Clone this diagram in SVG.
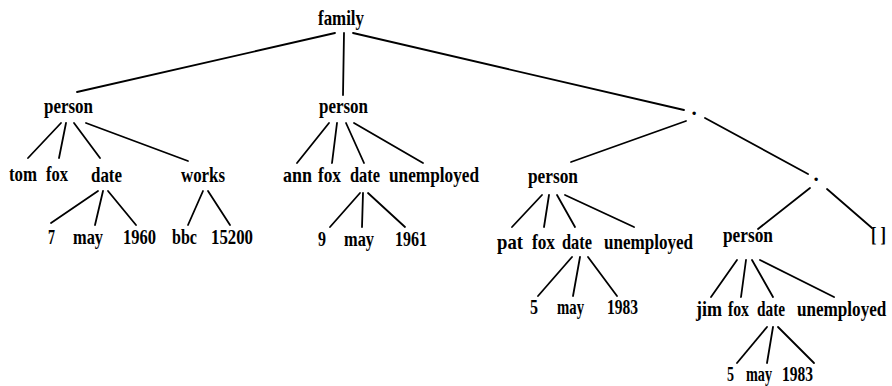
<svg xmlns="http://www.w3.org/2000/svg" width="892" height="386" viewBox="0 0 892 386">
<style>
text{font-family:"Liberation Serif","Times New Roman",serif;font-weight:bold;font-size:21px;fill:#000}
.e line{stroke:#000;stroke-width:1.8;stroke-linecap:round}
</style>
<rect width="892" height="386" fill="#fff"/>
<g class="e" id="connectors">
<line x1="335" y1="33" x2="77" y2="92"/>
<line x1="344" y1="33" x2="343" y2="95"/>
<line x1="353" y1="33" x2="684" y2="110"/>
<line x1="61" y1="123" x2="28" y2="158"/>
<line x1="66" y1="123" x2="59" y2="158"/>
<line x1="74" y1="123" x2="100" y2="158"/>
<line x1="86" y1="123" x2="188" y2="161"/>
<line x1="98" y1="191" x2="51" y2="223"/>
<line x1="103" y1="191" x2="95" y2="225"/>
<line x1="108" y1="191" x2="136" y2="225"/>
<line x1="203" y1="191" x2="188" y2="225"/>
<line x1="208" y1="191" x2="230" y2="225"/>
<line x1="329" y1="123" x2="297" y2="163"/>
<line x1="337" y1="123" x2="332" y2="163"/>
<line x1="346" y1="123" x2="364" y2="163"/>
<line x1="354" y1="123" x2="423" y2="163"/>
<line x1="360" y1="193" x2="330" y2="227"/>
<line x1="363" y1="193" x2="362" y2="227"/>
<line x1="368" y1="193" x2="405" y2="227"/>
<line x1="686" y1="121" x2="571" y2="162"/>
<line x1="705" y1="118" x2="808" y2="174"/>
<line x1="810" y1="188" x2="758" y2="229"/>
<line x1="827" y1="189" x2="872" y2="228"/>
<line x1="542" y1="195" x2="512" y2="227"/>
<line x1="549" y1="195" x2="544" y2="227"/>
<line x1="557" y1="195" x2="575" y2="227"/>
<line x1="565" y1="195" x2="634" y2="227"/>
<line x1="572" y1="257" x2="538" y2="296"/>
<line x1="580" y1="257" x2="573" y2="296"/>
<line x1="588" y1="257" x2="617" y2="296"/>
<line x1="737" y1="260" x2="711" y2="297"/>
<line x1="746" y1="260" x2="741" y2="297"/>
<line x1="752" y1="260" x2="773" y2="297"/>
<line x1="760" y1="260" x2="834" y2="297"/>
<line x1="767" y1="327" x2="737" y2="363"/>
<line x1="773" y1="327" x2="767" y2="363"/>
<line x1="778" y1="327" x2="814" y2="363"/>
</g>
<g id="family"><text x="318" y="25" textLength="46" lengthAdjust="spacingAndGlyphs">family</text></g>
<g id="person1"><text x="44" y="113" textLength="49" lengthAdjust="spacingAndGlyphs">person</text></g>
<g id="person2"><text x="319" y="113" textLength="49" lengthAdjust="spacingAndGlyphs">person</text></g>
<g id="dot1"><text x="694" y="115" text-anchor="middle">.</text></g>
<g id="tom"><text x="9" y="181" textLength="28" lengthAdjust="spacingAndGlyphs">tom</text></g>
<g id="fox1"><text x="46" y="181" textLength="22" lengthAdjust="spacingAndGlyphs">fox</text></g>
<g id="date1"><text x="91" y="182" textLength="31" lengthAdjust="spacingAndGlyphs">date</text></g>
<g id="works"><text x="181" y="182" textLength="44" lengthAdjust="spacingAndGlyphs">works</text></g>
<g id="d7"><text x="48" y="244" textLength="7" lengthAdjust="spacingAndGlyphs">7</text></g>
<g id="may1"><text x="73" y="244" textLength="30" lengthAdjust="spacingAndGlyphs">may</text></g>
<g id="y1960"><text x="123" y="244" textLength="33" lengthAdjust="spacingAndGlyphs">1960</text></g>
<g id="bbc"><text x="172" y="244" textLength="25" lengthAdjust="spacingAndGlyphs">bbc</text></g>
<g id="n15200"><text x="211" y="244" textLength="42" lengthAdjust="spacingAndGlyphs">15200</text></g>
<g id="ann"><text x="283" y="182" textLength="29" lengthAdjust="spacingAndGlyphs">ann</text></g>
<g id="fox2"><text x="318" y="182" textLength="23" lengthAdjust="spacingAndGlyphs">fox</text></g>
<g id="date2"><text x="350" y="182" textLength="30" lengthAdjust="spacingAndGlyphs">date</text></g>
<g id="unemployed2"><text x="389" y="182" textLength="90" lengthAdjust="spacingAndGlyphs">unemployed</text></g>
<g id="d9"><text x="318" y="246" textLength="8" lengthAdjust="spacingAndGlyphs">9</text></g>
<g id="may2"><text x="344" y="246" textLength="30" lengthAdjust="spacingAndGlyphs">may</text></g>
<g id="y1961"><text x="395" y="246" textLength="32" lengthAdjust="spacingAndGlyphs">1961</text></g>
<g id="person3"><text x="528" y="183" textLength="50" lengthAdjust="spacingAndGlyphs">person</text></g>
<g id="dot2"><text x="816" y="181" text-anchor="middle">.</text></g>
<g id="pat"><text x="497" y="249" textLength="26" lengthAdjust="spacingAndGlyphs">pat</text></g>
<g id="fox3"><text x="532" y="249" textLength="23" lengthAdjust="spacingAndGlyphs">fox</text></g>
<g id="date3"><text x="562" y="249" textLength="30" lengthAdjust="spacingAndGlyphs">date</text></g>
<g id="unemployed3"><text x="604" y="249" textLength="89" lengthAdjust="spacingAndGlyphs">unemployed</text></g>
<g id="d5a"><text x="530" y="314" textLength="8" lengthAdjust="spacingAndGlyphs">5</text></g>
<g id="may3"><text x="557" y="314" textLength="27" lengthAdjust="spacingAndGlyphs">may</text></g>
<g id="y1983a"><text x="607" y="314" textLength="31" lengthAdjust="spacingAndGlyphs">1983</text></g>
<g id="person4"><text x="723" y="242" textLength="50" lengthAdjust="spacingAndGlyphs">person</text></g>
<g id="nil"><text x="871" y="242" textLength="15" lengthAdjust="spacingAndGlyphs">[ ]</text></g>
<g id="jim"><text x="696" y="316" textLength="26" lengthAdjust="spacingAndGlyphs">jim</text></g>
<g id="fox4"><text x="728" y="316" textLength="21" lengthAdjust="spacingAndGlyphs">fox</text></g>
<g id="date4"><text x="757" y="316" textLength="28" lengthAdjust="spacingAndGlyphs">date</text></g>
<g id="unemployed4"><text transform="translate(797,316) scale(0.815,1)" x="0" y="0">unemployed</text></g>
<g id="d5b"><text x="727" y="381" textLength="7" lengthAdjust="spacingAndGlyphs">5</text></g>
<g id="may4"><text x="746" y="381" textLength="26" lengthAdjust="spacingAndGlyphs">may</text></g>
<g id="y1983b"><text x="782" y="381" textLength="31" lengthAdjust="spacingAndGlyphs">1983</text></g>
</svg>
